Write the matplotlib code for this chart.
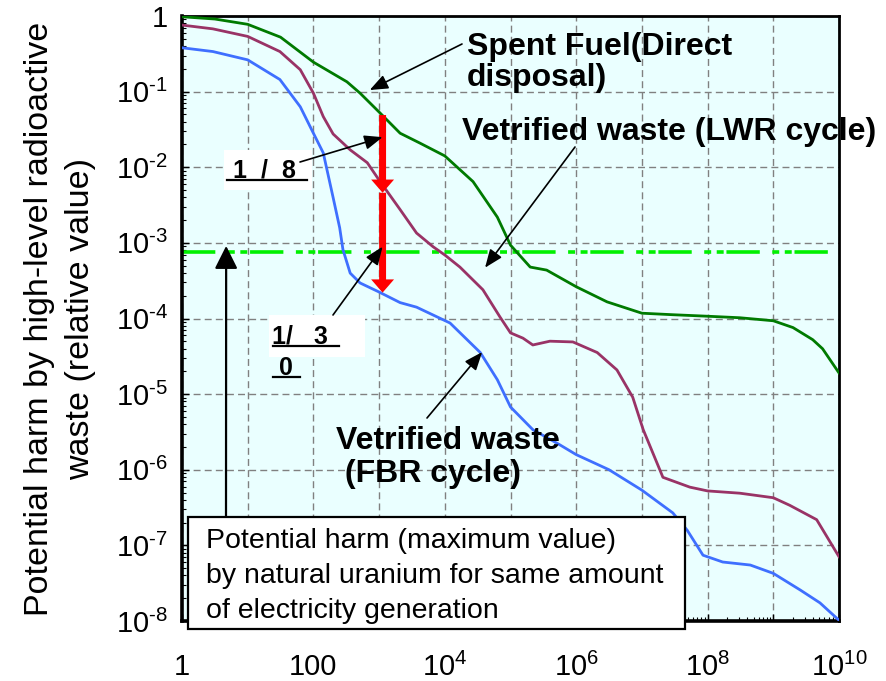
import numpy as np
import matplotlib
matplotlib.use("Agg")
import matplotlib.pyplot as plt
from matplotlib.patches import Rectangle, FancyArrowPatch, ArrowStyle
from matplotlib.lines import Line2D
from matplotlib.ticker import LogLocator, NullFormatter

plt.rcParams['font.family'] = ['Liberation Sans', 'DejaVu Sans']
plt.rcParams['mathtext.fontset'] = 'custom'
plt.rcParams['mathtext.rm'] = 'Liberation Sans'
plt.rcParams['mathtext.it'] = 'Liberation Sans:italic'
plt.rcParams['mathtext.bf'] = 'Liberation Sans:bold'
plt.rcParams['lines.scale_dashes'] = False

# ---------------- data (log10 values) ----------------
spent_years_log = [0, 0.5, 1.0, 1.5, 2.0, 2.51, 2.71, 3.0, 3.32, 3.62, 4.0, 4.43, 4.8, 5.0,
                   5.3, 5.55, 6.0, 6.47, 7.0, 7.47, 8.0, 8.49, 9.0, 9.3, 9.6, 9.75, 10.0]
spent_fuel_log = [-0.01, -0.04, -0.11, -0.28, -0.61, -0.87, -1.02, -1.27, -1.55, -1.68, -1.85,
                  -2.19, -2.66, -3.03, -3.32, -3.36, -3.58, -3.78, -3.93, -3.95, -3.97, -3.99,
                  -4.03, -4.12, -4.28, -4.40, -4.72]

lwr_years_log = [0, 0.47, 1.0, 1.49, 1.8, 2.0, 2.15, 2.3, 2.56, 2.82, 3.0, 3.32, 3.57, 3.82,
                 4.0, 4.23, 4.58, 4.84, 5.0, 5.19, 5.34, 5.6, 5.95, 6.32, 6.62, 6.86, 7.02,
                 7.32, 7.73, 8.0, 8.49, 9.0, 9.25, 9.66, 10.0]
lwr_waste_log = [-0.12, -0.17, -0.27, -0.47, -0.71, -1.02, -1.33, -1.56, -1.77, -1.94, -2.17,
                 -2.56, -2.87, -3.05, -3.16, -3.32, -3.62, -3.98, -4.19, -4.26, -4.35, -4.30,
                 -4.31, -4.45, -4.68, -5.04, -5.47, -6.10, -6.23, -6.28, -6.31, -6.37, -6.47,
                 -6.66, -7.15]

fbr_years_log = [0, 0.47, 1.0, 1.49, 1.8, 2.0, 2.15, 2.3, 2.4, 2.45, 2.56, 2.71, 3.0, 3.32,
                 3.57, 4.08, 4.54, 4.8, 5.0, 5.34, 5.75, 6.0, 6.5, 7.0, 7.47, 7.69, 7.93,
                 8.23, 8.65, 9.0, 9.41, 9.71, 10.0]
fbr_waste_log = [-0.42, -0.47, -0.58, -0.84, -1.20, -1.55, -1.81, -2.40, -2.80, -3.09, -3.40,
                 -3.53, -3.65, -3.79, -3.85, -4.06, -4.45, -4.81, -5.17, -5.47, -5.67, -5.80,
                 -6.00, -6.27, -6.57, -6.80, -7.13, -7.22, -7.26, -7.37, -7.59, -7.76, -7.99]

uranium_level = 7.6e-4              # natural uranium potential harm line
reduction_x = 1130                  # position of the red reduction arrows (years)
reduction_levels = [4.9e-2, 4.6e-3, 2.2e-4]

x_ticks = [1, 1e1, 1e2, 1e3, 1e4, 1e5, 1e6, 1e7, 1e8, 1e9, 1e10]
x_tick_labels = ['1', '', '100', '', '$10^{4}$', '', '$10^{6}$', '', '$10^{8}$', '', '$10^{10}$']
y_ticks = [1, 1e-1, 1e-2, 1e-3, 1e-4, 1e-5, 1e-6, 1e-7, 1e-8]
y_tick_labels = ['1', r'$10^{\text{-}1}$', r'$10^{\text{-}2}$', r'$10^{\text{-}3}$',
                 r'$10^{\text{-}4}$', r'$10^{\text{-}5}$', r'$10^{\text{-}6}$',
                 r'$10^{\text{-}7}$', r'$10^{\text{-}8}$']

# ---------------- figure ----------------
W, H = 886, 681
fig = plt.figure(figsize=(W / 100, H / 100), dpi=100)


def fx(p):
    return p / W


def fy(p):
    return 1 - p / H


ax = fig.add_axes([fx(182), fy(621), (839 - 182) / W, (621 - 16) / H])
ax.set_facecolor('#EAFFFF')
ax.set_xscale('log')
ax.set_yscale('log')
ax.set_xlim(1, 1e10)
ax.set_ylim(1e-8, 1)

ax.set_xticks(x_ticks, x_tick_labels)
ax.set_yticks(y_ticks, y_tick_labels)
ax.xaxis.set_minor_locator(LogLocator(base=10, subs=np.arange(2, 10), numticks=100))
ax.yaxis.set_minor_locator(LogLocator(base=10, subs=np.arange(2, 10), numticks=100))
ax.xaxis.set_minor_formatter(NullFormatter())
ax.yaxis.set_minor_formatter(NullFormatter())
ax.tick_params(which='both', direction='in', top=False, right=False)
ax.tick_params(which='major', length=5, width=1.0, labelsize=21)
ax.tick_params(which='minor', length=3, width=0.8)
ax.tick_params(axis='x', which='major', pad=23)
ax.tick_params(axis='y', which='major', pad=10)
ax.grid(True, which='major', color='#808080', lw=1.0, linestyle=(0, (5, 3)))
ax.set_axisbelow(True)
for s in ax.spines.values():
    s.set_linewidth(2.0)
    s.set_color('black')
ax.spines['left'].set_linewidth(2.6)
ax.spines['bottom'].set_linewidth(2.6)

ax.axhline(uranium_level, color='#00F000', lw=2.6, dashes=(24, 9, 5, 4, 5, 2), zorder=2)

ax.plot(10 ** np.array(spent_years_log), 10 ** np.array(spent_fuel_log), color='#007A00', lw=2.0, zorder=3)
ax.plot(10 ** np.array(lwr_years_log), 10 ** np.array(lwr_waste_log), color='#993366', lw=2.0, zorder=3)
ax.plot(10 ** np.array(fbr_years_log), 10 ** np.array(fbr_waste_log), color='#3F6FFF', lw=2.0, zorder=3)

# red reduction arrows
red_style = ArrowStyle.Simple(head_length=0.95, head_width=1.65, tail_width=0.5)
for a, b in zip(reduction_levels[:-1], reduction_levels[1:]):
    ax.add_patch(FancyArrowPatch((reduction_x, a), (reduction_x, b), arrowstyle=red_style,
                                 mutation_scale=10, color='#FF0000', shrinkA=0, shrinkB=0,
                                 zorder=4, lw=0))

# white label boxes
for (x0, y0, x1, y1) in [(224, 150, 312, 190), (269, 315, 365, 357)]:
    ax.add_patch(Rectangle((fx(x0), fy(y1)), (x1 - x0) / W, (y1 - y0) / H,
                           transform=fig.transFigure, facecolor='white', edgecolor='none',
                           zorder=5, clip_on=False))

# bottom explanation box
ax.add_patch(Rectangle((fx(188), fy(629)), (685 - 188) / W, (629 - 517) / H,
                       transform=fig.transFigure, facecolor='white', edgecolor='black',
                       lw=1.6, zorder=5, clip_on=False))

# black pointer arrows: (tail pixel x, tail pixel y, tip in data coords)
arrow_props = dict(arrowstyle='-|>,head_length=0.55,head_width=0.22', color='black', lw=1.2,
                   shrinkA=0, shrinkB=0, mutation_scale=20)
pointers = [
    ((462, 44), (720, 0.105)),       # spent fuel
    ((575, 147), (4.1e4, 4.7e-4)),   # LWR
    ((427, 418), (3.7e4, 3.6e-5)),   # FBR
    ((300, 162), (1130, 0.025)),     # 1/8
    ((333, 315), (1130, 8.9e-4)),    # 1/30
]
for (px, py), tip in pointers:
    ax.annotate('', xy=tip, xycoords='data', xytext=(px, H - py), textcoords='figure pixels',
                arrowprops=arrow_props, annotation_clip=False, zorder=6)
ax.annotate('', xy=(4.7, uranium_level * 1.2), xycoords='data', xytext=(226, H - 517),
            textcoords='figure pixels', annotation_clip=False, zorder=4,
            arrowprops=dict(arrowstyle='-|>,head_length=0.7,head_width=0.35', color='black',
                            lw=1.6, shrinkA=0, shrinkB=0, mutation_scale=20))

# texts
bold = dict(fontsize=23, fontweight='bold', color='black', transform=fig.transFigure,
            va='baseline', ha='left', zorder=7)
ax.text(fx(467), fy(55), 'Spent Fuel(Direct', **bold)
ax.text(fx(467), fy(86), 'disposal)', **bold)
ax.text(fx(462), fy(140), 'Vetrified waste (LWR cycle)', **bold)
ax.text(fx(336), fy(449), 'Vetrified waste', **bold)
ax.text(fx(336), fy(482), ' (FBR cycle)', **bold)

frac = dict(fontsize=18, fontweight='bold', color='black', transform=fig.transFigure,
            va='baseline', ha='left', zorder=7)
ax.text(fx(233), fy(177), '1  /  8', **frac)
ax.text(fx(272), fy(344), '1/   3', **frac)
ax.text(fx(272), fy(375), ' 0', **frac)
for (x0, x1, yy) in [(227, 307, 180), (273, 339, 346), (273, 300, 377)]:
    ax.add_line(Line2D([fx(x0), fx(x1)], [fy(yy), fy(yy)], transform=fig.transFigure,
                       color='black', lw=1.6, zorder=7, clip_on=False))

box = dict(fontsize=20.5, color='black', transform=fig.transFigure, va='baseline',
           ha='left', zorder=7)
ax.text(fx(206), fy(548), 'Potential harm (maximum value)', **box)
ax.text(fx(206), fy(583), 'by natural uranium for same amount', **box)
ax.text(fx(206), fy(618), 'of electricity generation', **box)

ylab = dict(fontsize=24.5, color='black', rotation=90, rotation_mode='anchor',
            ha='center', va='baseline')
fig.text(fx(48), fy(319), 'Potential harm by high-level radioactive', **ylab)
fig.text(fx(89), fy(319), 'waste (relative value)', **ylab)

fig.savefig('out.png', dpi=100)
